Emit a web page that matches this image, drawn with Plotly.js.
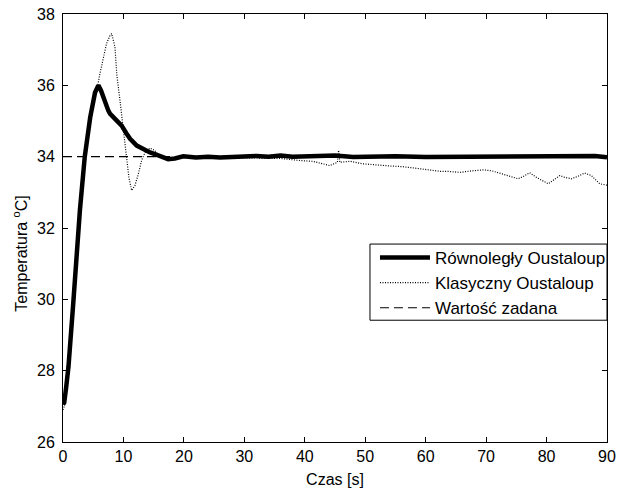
<!DOCTYPE html>
<html>
<head>
<meta charset="utf-8">
<script src="https://cdn.plot.ly/plotly-3.0.1.min.js"></script>
<style>
  html, body { margin: 0; padding: 0; background: #fff; }
  #chart { width: 617px; height: 491px; }
</style>
</head>
<body>
<div id="chart"></div>
<script>
// Równoległy Oustaloup (thick solid)
const tParallel = [0, 0.2, 0.5, 0.9, 1.7, 2.5, 2.8, 3.6, 4.5, 5.3, 5.85, 6.3, 6.9, 7.5, 7.8, 8.6, 9.7, 10.5, 11.1, 12.2, 13.3, 14.4, 15.2, 16.0, 17.4, 18.5, 19.9, 22, 24, 26, 28, 30, 32, 34, 36, 38, 40, 42, 45, 48, 51, 55, 60, 65, 70, 75, 80, 84, 88, 90];
const yParallel = [27.05, 27.1, 27.5, 28.1, 29.9, 31.9, 32.5, 34.0, 35.1, 35.8, 36.0, 35.85, 35.55, 35.29, 35.2, 35.05, 34.87, 34.65, 34.5, 34.31, 34.2, 34.12, 34.07, 34.03, 33.93, 33.95, 34.01, 33.98, 34.0, 33.98, 34.0, 34.0, 34.02, 34.0, 34.03, 34.0, 34.0, 34.02, 34.03, 33.99, 34.0, 34.01, 33.99, 34.0, 34.01, 33.99, 34.0, 34.01, 34.02, 33.98];

// Klasyczny Oustaloup (dotted)
const tClassic = [0, 0.2, 0.5, 0.9, 1.7, 2.5, 2.8, 3.6, 4.5, 5.3, 5.7, 6.1, 6.67, 7.2, 7.78, 8.05, 8.6, 8.9, 9.43, 10.1, 10.5, 10.9, 11.36, 11.9, 12.46, 13.0, 13.57, 14.4, 15.2, 16.05, 17.2, 18.5, 20, 23, 26, 30, 33, 36, 39.3, 41.3, 42.5, 44.1, 45.4, 45.6, 45.8, 47.5, 49.6, 52.4, 54, 56.2, 58, 60.2, 62.4, 63.5, 65.7, 67.5, 69.6, 71, 72.5, 74, 75.3, 76.2, 77.2, 78.5, 80.3, 81.2, 82.2, 83, 84.1, 85.2, 86.3, 87.4, 88.8, 90];
const yClassic = [26.9, 27.0, 27.5, 28.1, 29.9, 31.9, 32.5, 34.0, 35.1, 35.8, 35.95, 36.32, 36.79, 37.17, 37.4, 37.45, 37.07, 36.3, 35.57, 34.54, 34.0, 33.42, 33.05, 33.19, 33.51, 33.89, 34.12, 34.24, 34.17, 33.98, 33.93, 33.96, 33.98, 33.97, 33.96, 33.97, 33.96, 33.95, 33.89, 33.87, 33.82, 33.75, 33.84, 34.18, 33.84, 33.87, 33.8, 33.75, 33.74, 33.72, 33.68, 33.63, 33.59, 33.59, 33.56, 33.6, 33.63, 33.6, 33.52, 33.45, 33.38, 33.45, 33.55, 33.4, 33.24, 33.35, 33.47, 33.42, 33.38, 33.45, 33.54, 33.47, 33.24, 33.2];

// Wartość zadana (setpoint, dashed)
const tSet = [0, 90];
const ySet = [34, 34];

const names = ['Równoległy Oustaloup', 'Klasyczny Oustaloup', 'Wartość zadana'];
const xTicks = [0, 10, 20, 30, 40, 50, 60, 70, 80, 90];
const yTicks = [26, 28, 30, 32, 34, 36, 38];

const FONT = 'Liberation Sans, Arial, Helvetica, sans-serif';

const traces = [
  { x: tParallel, y: yParallel, name: names[0], mode: 'lines',
    line: { color: '#000', width: 4.5 } },
  { x: tClassic, y: yClassic, name: names[1], mode: 'lines',
    line: { color: '#000', width: 1.2, dash: '1px,1.5px' } },
  { x: tSet, y: ySet, name: names[2], mode: 'lines',
    line: { color: '#000', width: 1.2, dash: '9px,5px' } }
];

const axisCommon = {
  showgrid: false, zeroline: false, showline: true, linecolor: '#000', linewidth: 1,
  mirror: 'ticks', ticks: 'inside', ticklen: 5, tickcolor: '#000', tickwidth: 1,
  tickfont: { family: FONT, size: 16, color: '#000' }
};

const layout = {
  width: 617, height: 491,
  margin: { l: 63, r: 10, t: 14, b: 49, pad: 0, autoexpand: false },
  paper_bgcolor: '#fff', plot_bgcolor: '#fff',
  font: { family: FONT, color: '#000' },
  showlegend: true,
  legend: {
    x: 0.5735, xanchor: 'left', y: 0.472, yanchor: 'top',
    bgcolor: 'rgba(0,0,0,0)', borderwidth: 0,
    font: { family: FONT, size: 17, color: '#000' },
    tracegroupgap: 0, itemwidth: 50
  },
  shapes: [{
    type: 'rect', xref: 'paper', yref: 'paper', layer: 'below',
    x0: 0.5643, x1: 1, y0: 0.2845, y1: 0.4625,
    line: { color: '#000', width: 1 }, fillcolor: '#fff'
  }],
  xaxis: Object.assign({}, axisCommon, {
    range: [0, 90], tickvals: xTicks, ticktext: xTicks.map(String),
    title: { text: 'Czas [s]', font: { family: FONT, size: 16, color: '#000' }, standoff: 9 }
  }),
  yaxis: Object.assign({}, axisCommon, {
    range: [26, 38], tickvals: yTicks, ticktext: yTicks.map(String),
    ticklabelstandoff: 4
  }),
  annotations: [{
    xref: 'paper', yref: 'paper', x: -0.079, y: 0.44, xanchor: 'center', yanchor: 'middle',
    textangle: -90, showarrow: false,
    text: 'Temperatura <sup>o</sup>C]',
    font: { family: FONT, size: 16, color: '#000' }
  }]
};

Plotly.newPlot('chart', traces, layout, { displayModeBar: false, staticPlot: true });
</script>
</body>
</html>
